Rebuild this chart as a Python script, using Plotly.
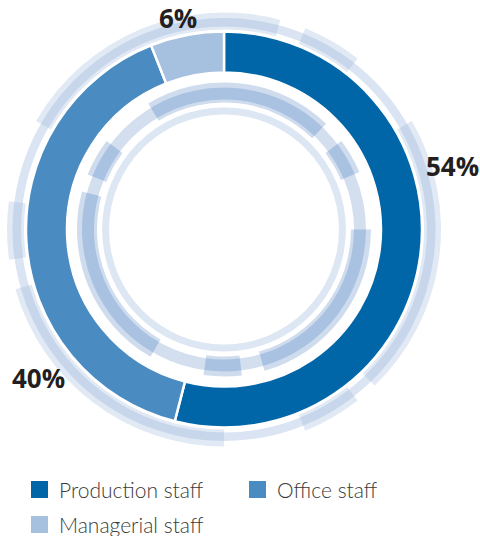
import plotly.graph_objects as go

# Workforce breakdown (share of employees, %)
CATEGORIES = ["Production staff", "Office staff", "Managerial staff"]
SHARES = [54, 40, 6]
COLORS = ["#0066A8", "#4A8BC2", "#A6C0DF"]

# Decorative arc spans (degrees, clockwise from 12 o'clock)
OUTER_ARCS = [(-60, 15), (22, 38), (60, 136), (142, 158), (180, 254), (262, 277.5)]
INNER_ARCS = [(-31, 44), (53, 67), (90, 164), (173, 188), (210, 285), (292, 307)]
FULL_RING = [(0, 180), (180, 360)]

W, H = 480, 536
CX, CY, RMAX = 224, 229.5, 220


def px_x(x):
    return x / W


def px_y(y):
    return 1 - y / H


def ring(arcs, r0, r1, color):
    return go.Barpolar(
        theta=[(a + b) / 2 for a, b in arcs],
        width=[b - a for a, b in arcs],
        base=[r0] * len(arcs),
        r=[r1 - r0] * len(arcs),
        marker=dict(color=color, line=dict(width=0)),
        hoverinfo="skip",
        showlegend=False,
    )


fig = go.Figure()

# outer decoration
fig.add_trace(ring(OUTER_ARCS, 200, 217, "#E0E9F4"))
fig.add_trace(ring(FULL_RING, 203, 211.5, "#DAE4F2"))
fig.add_trace(ring(OUTER_ARCS, 203, 211.5, "#C7D6EB"))

# inner decoration
fig.add_trace(ring(FULL_RING, 115, 122, "#DDE7F3"))
fig.add_trace(ring(INNER_ARCS, 127, 147, "#CFDCEE"))
fig.add_trace(ring(FULL_RING, 130, 142, "#D3DFEF"))
fig.add_trace(ring(INNER_ARCS, 130, 142, "#A9C2E1"))

# main donut
total = sum(SHARES)
starts, widths = [], []
acc = 0
for v in SHARES:
    starts.append(acc * 360 / total)
    widths.append(v * 360 / total)
    acc += v
fig.add_trace(go.Barpolar(
    theta=[s + w / 2 for s, w in zip(starts, widths)],
    width=widths,
    base=[157] * len(SHARES),
    r=[41] * len(SHARES),
    marker=dict(color=COLORS, line=dict(color="white", width=2.5)),
    customdata=CATEGORIES,
    hovertemplate="%{customdata}<extra></extra>",
    showlegend=False,
))

fig.update_layout(
    width=W, height=H,
    margin=dict(l=0, r=0, t=0, b=0),
    paper_bgcolor="white",
    plot_bgcolor="white",
    showlegend=False,
    polar=dict(
        domain=dict(x=[px_x(CX - RMAX), px_x(CX + RMAX)],
                    y=[px_y(CY + RMAX), px_y(CY - RMAX)]),
        bgcolor="white",
        hole=0,
        radialaxis=dict(range=[0, RMAX], visible=False, showgrid=False),
        angularaxis=dict(direction="clockwise", rotation=90, visible=False,
                         showgrid=False, showline=False, showticklabels=False),
    ),
)

# value labels
label_pos = [(452, 166), (38, 378), (178, 18)]
for v, (x, y) in zip(SHARES, label_pos):
    fig.add_annotation(
        x=px_x(x), y=px_y(y), xref="paper", yref="paper",
        text=f"<b>{v}%</b>", showarrow=False,
        xanchor="center", yanchor="middle",
        font=dict(family="Open Sans", size=26, color="#231F20"),
    )

# legend
legend_pos = [(31, 481), (249, 481), (31, 516)]
for name, col, (x, y) in zip(CATEGORIES, COLORS, legend_pos):
    fig.add_shape(
        type="rect", xref="paper", yref="paper",
        x0=px_x(x), x1=px_x(x + 17), y0=px_y(y + 17), y1=px_y(y),
        fillcolor=col, line=dict(width=0),
    )
    fig.add_annotation(
        x=px_x(x + 26), y=px_y(y + 8.5), xref="paper", yref="paper",
        text=name, showarrow=False, xanchor="left", yanchor="middle",
        font=dict(family="Lato", size=21, color="#3A3A3A", weight=300),
    )

fig.write_html("out.html")
